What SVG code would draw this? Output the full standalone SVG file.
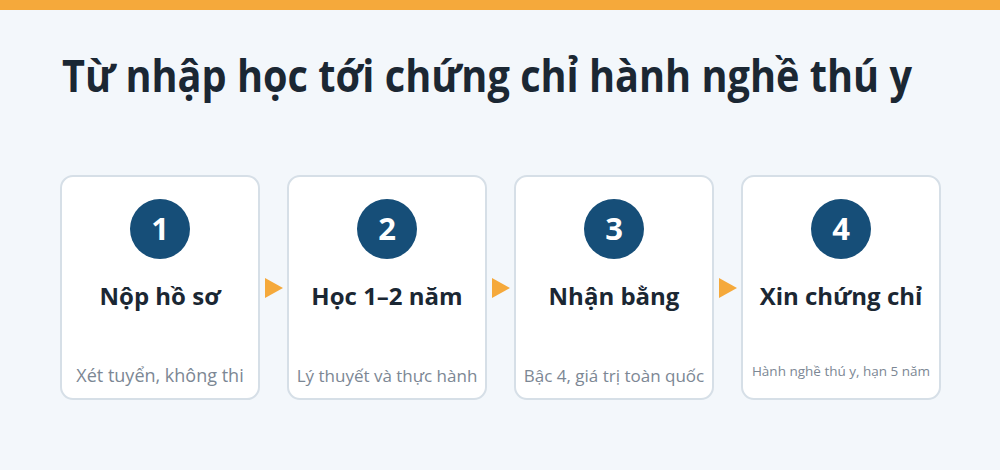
<svg xmlns="http://www.w3.org/2000/svg" width="1000" height="470" viewBox="0 0 1000 470">
<defs>
<style>
.card{fill:#FFFFFF;stroke:#D6DFE7;stroke-width:2}
.badge{fill:#164E78}
.num{font-family:"Open Sans","Noto Sans",sans-serif;font-weight:700;font-size:31px;fill:#FFFFFF;text-anchor:middle}
.head{font-family:"Open Sans","Noto Sans",sans-serif;font-weight:700;font-size:24px;fill:#1B2733;text-anchor:middle}
.sub{font-family:"Open Sans","Noto Sans",sans-serif;font-size:18px;fill:#7C8794;text-anchor:middle}
.arrow{fill:#F5A93B}
</style>
</defs>
<rect x="0" y="0" width="1000" height="470" fill="#F3F7FB"/>
<rect x="0" y="0" width="1000" height="10" fill="#F5A93B"/>
<text transform="scale(1,1.3)" x="62" y="70.8" font-family="Open Sans, Noto Sans, sans-serif" font-weight="700" font-size="34" fill="#1B2733" textLength="850" lengthAdjust="spacingAndGlyphs">Từ nhập học tới chứng chỉ hành nghề thú y</text>
<g id="connectors">
<polygon class="arrow" points="265,278 283,288 265,298"/>
<polygon class="arrow" points="492,278 510,288 492,298"/>
<polygon class="arrow" points="719,278 737,288 719,298"/>
</g>
<g id="step1">
<rect class="card" x="61" y="176" width="198" height="223" rx="12"/>
<circle class="badge" cx="160" cy="229" r="30"/>
<text class="num" x="160" y="240">1</text>
<text class="head" x="160" y="305">Nộp hồ sơ</text>
<text class="sub" x="160" y="382">Xét tuyển, không thi</text>
</g>
<g id="step2">
<rect class="card" x="288" y="176" width="198" height="223" rx="12"/>
<circle class="badge" cx="387" cy="229" r="30"/>
<text class="num" x="387" y="240">2</text>
<text class="head" x="387" y="305">Học 1–2 năm</text>
<text class="sub" x="387" y="382" style="font-size:17px">Lý thuyết và thực hành</text>
</g>
<g id="step3">
<rect class="card" x="515" y="176" width="198" height="223" rx="12"/>
<circle class="badge" cx="614" cy="229" r="30"/>
<text class="num" x="614" y="240">3</text>
<text class="head" x="614" y="305">Nhận bằng</text>
<text class="sub" x="614" y="382" style="font-size:17px">Bậc 4, giá trị toàn quốc</text>
</g>
<g id="step4">
<rect class="card" x="742" y="176" width="198" height="223" rx="12"/>
<circle class="badge" cx="841" cy="229" r="30"/>
<text class="num" x="841" y="240">4</text>
<text class="head" x="841" y="305">Xin chứng chỉ</text>
<text class="sub" x="841" y="376" style="font-size:13.5px">Hành nghề thú y, hạn 5 năm</text>
</g>
</svg>
